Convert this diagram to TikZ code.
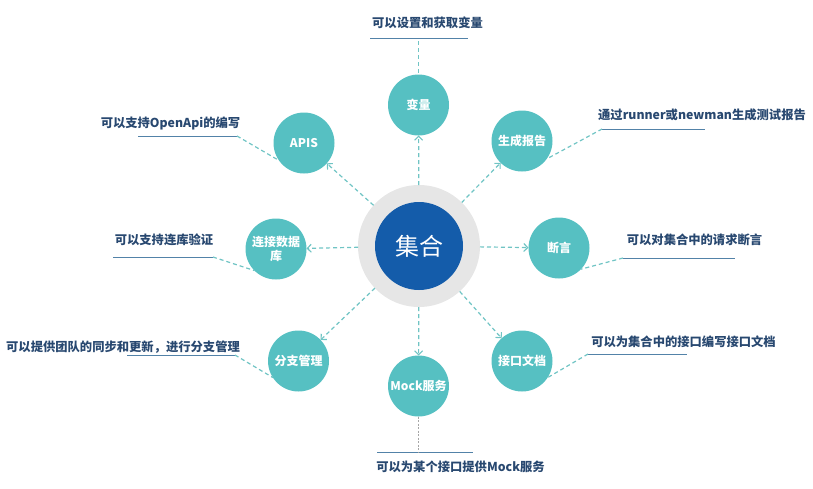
\documentclass[tikz,border=0pt]{standalone}
\usepackage{fontspec}
\newfontfamily\cjk{Noto Sans CJK SC}
\usetikzlibrary{arrows.meta}
\definecolor{tealc}{RGB}{86,192,194}
\definecolor{dashc}{RGB}{112,196,196}
\definecolor{hubblue}{RGB}{20,92,170}
\definecolor{ringgray}{RGB}{230,230,230}
\definecolor{txtc}{RGB}{40,72,112}
\definecolor{linec}{RGB}{82,130,168}
\tikzset{
  sat/.style={circle, fill=tealc, minimum size=61pt, inner sep=0pt, outer sep=0pt,
    text=white, font=\cjk\bfseries\fontsize{12}{14}\selectfont, align=center},
  desc/.style={inner sep=0pt, text=txtc, font=\cjk\bfseries\fontsize{12.3}{14}\selectfont},
  uline/.style={draw=linec, line width=0.9pt},
  spoke/.style={draw=dashc, line width=1.2pt, dash pattern=on 4pt off 3pt,
    -{Straight Barb[length=4pt,width=8pt,line width=1.1pt]}},
  callout/.style={draw=dashc, line width=1.2pt, dash pattern=on 4pt off 3pt},
  mockline/.style={draw=gray!70, line width=0.7pt, dash pattern=on 2pt off 1.5pt}
}
\begin{document}
\begin{tikzpicture}[x=1pt,y=-1pt]
\useasboundingbox (0,0) rectangle (813,488);
% hub
\node[circle, fill=ringgray, minimum size=122pt, inner sep=0pt, outer sep=0pt] (hub) at (419,246) {};
\node[circle, fill=hubblue, minimum size=88pt, inner sep=0pt, text=white,
  font=\cjk\fontsize{24}{26}\selectfont] (hubin) at (419,246) {集合};
% satellites
\node[sat] (bl) at (418.5,105) {变量};
\node[sat] (apis) at (304,143) {APIS};
\node[sat] (bg) at (522,141) {生成报告};
\node[sat] (db) at (276,249) {连接数据\\库};
\node[sat] (dy) at (559,248) {断言};
\node[sat] (fz) at (298.5,361) {分支管理};
\node[sat] (jk) at (522,361) {接口文档};
\node[sat] (mock) at (418.5,386) {Mock服务};
% spokes
\foreach \s in {bl,apis,bg,db,dy,fz,jk,mock}
  \draw[spoke] (hub) -- (\s);
% descriptions
\node[desc] (t1) at (427.5,23) {可以设置和获取变量};
\node[desc] (t2) at (170.5,123.5) {可以支持OpenApi的编写};
\node[desc] (t3) at (702,115) {通过runner或newman生成测试报告};
\node[desc] (t4) at (164,240) {可以支持连库验证};
\node[desc] (t5) at (694.5,240) {可以对集合中的请求断言};
\node[desc] (t6) at (123,347) {可以提供团队的同步和更新，进行分支管理};
\node[desc] (t7) at (683.5,342) {可以为集合中的接口编写接口文档};
\node[desc] (t8) at (460.5,467) {可以为某个接口提供Mock服务};
% underlines
\coordinate (u1a) at (370,38);  \coordinate (u1b) at (468,38);
\coordinate (u2a) at (138,136); \coordinate (u2b) at (237,136);
\coordinate (u3a) at (602,129); \coordinate (u3b) at (705,129);
\coordinate (u4a) at (113,257); \coordinate (u4b) at (213,257);
\coordinate (u5a) at (623,258); \coordinate (u5b) at (735,258);
\coordinate (u6a) at (127,355); \coordinate (u6b) at (235,355);
\coordinate (u7a) at (588,354); \coordinate (u7b) at (687,354);
\coordinate (u8a) at (377,452); \coordinate (u8b) at (473,452);
\foreach \i in {1,...,8} \draw[uline] (u\i a) -- (u\i b);
\coordinate (c1) at (418.5,41);
\coordinate (c8) at (418.5,452);
% callouts
\draw[callout] (c1) -- (bl.north);
\draw[callout] (u2b) -- (apis.215);
\draw[callout] (u3a) -- (bg.324);
\draw[callout] (u4b) -- (db.225);
\draw[callout] (u5a) -- (dy.316);
\draw[callout] (u6b) -- (fz.213);
\draw[callout] (u7a) -- (jk.327);
\draw[mockline] (mock.south) -- (c8);
\end{tikzpicture}
\end{document}
